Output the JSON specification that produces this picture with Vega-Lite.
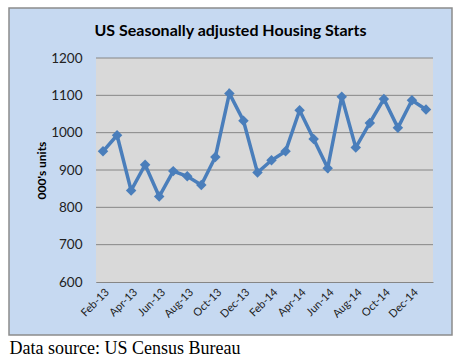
{
  "$schema": "https://vega.github.io/schema/vega-lite/v6.json",
  "width": 443,
  "height": 327,
  "autosize": "none",
  "padding": {"left": 9, "top": 8, "right": 9, "bottom": 23},
  "background": "white",
  "config": {
    "view": {"fill": "#c6d9f1", "stroke": "#8c8c8c", "strokeWidth": 1.5},
    "font": "Lato"
  },
  "title": {
    "text": "US Seasonally adjusted Housing Starts",
    "font": "Lato",
    "fontSize": 16,
    "fontWeight": "bold",
    "color": "black",
    "anchor": "middle",
    "frame": "group",
    "baseline": "alphabetic",
    "offset": -44
  },
  "data": {
    "values": [
      {"i": 0, "month": "Feb-13", "starts": 950},
      {"i": 1, "month": "Mar-13", "starts": 993},
      {"i": 2, "month": "Apr-13", "starts": 845},
      {"i": 3, "month": "May-13", "starts": 914},
      {"i": 4, "month": "Jun-13", "starts": 829},
      {"i": 5, "month": "Jul-13", "starts": 897},
      {"i": 6, "month": "Aug-13", "starts": 883},
      {"i": 7, "month": "Sep-13", "starts": 860},
      {"i": 8, "month": "Oct-13", "starts": 935},
      {"i": 9, "month": "Nov-13", "starts": 1105},
      {"i": 10, "month": "Dec-13", "starts": 1032},
      {"i": 11, "month": "Jan-14", "starts": 893},
      {"i": 12, "month": "Feb-14", "starts": 926},
      {"i": 13, "month": "Mar-14", "starts": 950},
      {"i": 14, "month": "Apr-14", "starts": 1060},
      {"i": 15, "month": "May-14", "starts": 983},
      {"i": 16, "month": "Jun-14", "starts": 905},
      {"i": 17, "month": "Jul-14", "starts": 1096},
      {"i": 18, "month": "Aug-14", "starts": 960},
      {"i": 19, "month": "Sep-14", "starts": 1026},
      {"i": 20, "month": "Oct-14", "starts": 1090},
      {"i": 21, "month": "Nov-14", "starts": 1013},
      {"i": 22, "month": "Dec-14", "starts": 1087},
      {"i": 23, "month": "Jan-15", "starts": 1062}
    ]
  },
  "layer": [
    {
      "data": {"values": [{}]},
      "mark": {"type": "rect", "fill": "#d9d9d9"},
      "encoding": {
        "x": {"datum": -0.5, "type": "quantitative", "scale": {"domain": [-0.5, 23.5], "range": [87, 424], "nice": false, "zero": false}},
        "x2": {"datum": 23.5},
        "y": {"datum": 600, "type": "quantitative", "scale": {"domain": [600, 1200], "range": [274, 50], "nice": false, "zero": false}},
        "y2": {"datum": 1200}
      }
    },
    {
      "data": {"values": [{"g": 700}, {"g": 800}, {"g": 900}, {"g": 1000}, {"g": 1100}, {"g": 1200}]},
      "mark": {"type": "rule", "color": "#868686", "strokeWidth": 1},
      "encoding": {
        "x": {"datum": -0.5, "type": "quantitative"},
        "x2": {"datum": 23.5},
        "y": {"field": "g", "type": "quantitative"}
      }
    },
    {
      "mark": {"type": "line", "color": "#4a7ebb", "strokeWidth": 3.5},
      "encoding": {
        "x": {
          "field": "i", "type": "quantitative",
          "scale": {"domain": [-0.5, 23.5], "range": [87, 424], "nice": false, "zero": false},
          "axis": {
            "values": [0, 2, 4, 6, 8, 10, 12, 14, 16, 18, 20, 22],
            "labelExpr": "['Feb-13','Apr-13','Jun-13','Aug-13','Oct-13','Dec-13','Feb-14','Apr-14','Jun-14','Aug-14','Oct-14','Dec-14'][datum.value/2]",
            "labelAngle": -45,
            "labelFontSize": 11,
            "labelFont": "Lato",
            "labelColor": "#222222",
            "labelPadding": 4,
            "labelOverlap": false,
            "labelFlush": false,
            "labelBound": false,
            "ticks": false,
            "grid": false,
            "domainColor": "#868686",
            "offset": -53,
            "title": "Data source: US Census Bureau",
            "titleFont": "Liberation Serif",
            "titleFontSize": 18,
            "titleFontWeight": "normal",
            "titleColor": "black",
            "titleAnchor": "start",
            "titleAlign": "left",
            "titleBaseline": "alphabetic",
            "titleX": 0,
            "titleY": 71
          }
        },
        "y": {
          "field": "starts", "type": "quantitative",
          "scale": {"domain": [600, 1200], "range": [274, 50], "nice": false, "zero": false},
          "axis": {
            "values": [600, 700, 800, 900, 1000, 1100, 1200],
            "format": "d",
            "labelFontSize": 13.5,
            "labelFont": "Lato",
            "labelColor": "#222222",
            "labelPadding": 14,
            "ticks": false,
            "grid": false,
            "domainColor": "#868686",
            "offset": -87,
            "title": "000's units",
            "titleFont": "Lato",
            "titleFontSize": 12,
            "titleFontWeight": "bold",
            "titleColor": "black",
            "titlePadding": 2
          }
        }
      }
    },
    {
      "mark": {"type": "point", "shape": "diamond", "filled": true, "color": "#4a7ebb", "size": 110, "opacity": 1},
      "encoding": {
        "x": {"field": "i", "type": "quantitative"},
        "y": {"field": "starts", "type": "quantitative"}
      }
    }
  ]
}
